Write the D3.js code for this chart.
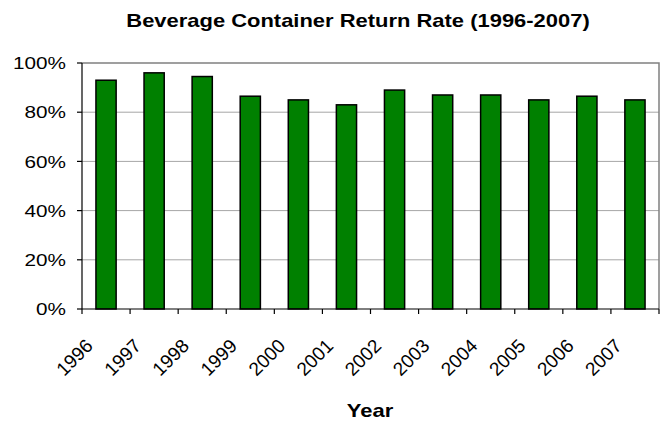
<!DOCTYPE html>
<html>
<head>
<meta charset="utf-8">
<script src="https://cdn.jsdelivr.net/npm/d3@7/dist/d3.min.js"></script>
<style>
  body { margin: 0; background: #fff; }
  text { font-family: "Liberation Sans", Arial, sans-serif; fill: #000; }
</style>
</head>
<body>
<div id="chart"></div>
<script>
const years = ["1996", "1997", "1998", "1999", "2000", "2001", "2002", "2003", "2004", "2005", "2006", "2007"];
const returnRates = [93, 96, 94.5, 86.5, 85, 83, 89, 87, 87, 85, 86.5, 85];
const yTicks = [0, 20, 40, 60, 80, 100];

const WIDTH = 665, HEIGHT = 421;
const PLOT_LEFT = 82, PLOT_RIGHT = 659, PLOT_TOP = 63, PLOT_BOTTOM = 309;
const STRETCH = 1.22; // text in the picture is a bit wide

const svg = d3.select("#chart").append("svg")
  .attr("width", WIDTH)
  .attr("height", HEIGHT);

const x = d3.scaleBand()
  .domain(years)
  .range([PLOT_LEFT, PLOT_RIGHT])
  .paddingInner(0.58)
  .paddingOuter(0.29);

const y = d3.scaleLinear()
  .domain([0, 100])
  .range([PLOT_BOTTOM, PLOT_TOP]);

// gridlines
svg.append("g").selectAll("line")
  .data(yTicks.filter(d => d > 0 && d < 100))
  .join("line")
  .attr("x1", PLOT_LEFT).attr("x2", PLOT_RIGHT)
  .attr("y1", d => y(d)).attr("y2", d => y(d))
  .attr("stroke", "#a6a6a6")
  .attr("stroke-width", 1);

// top and right border
svg.append("path")
  .attr("d", `M${PLOT_LEFT},${y(100)}H${PLOT_RIGHT}V${PLOT_BOTTOM}`)
  .attr("fill", "none")
  .attr("stroke", "#808080")
  .attr("stroke-width", 1.5);

// bars
svg.append("g").selectAll("rect")
  .data(years)
  .join("rect")
  .attr("x", d => x(d))
  .attr("y", (d, i) => y(returnRates[i]))
  .attr("width", x.bandwidth())
  .attr("height", (d, i) => y(0) - y(returnRates[i]))
  .attr("fill", "#008000")
  .attr("stroke", "#000")
  .attr("stroke-width", 1.5);

// y axis
const yAxis = svg.append("g");
yAxis.append("line")
  .attr("x1", PLOT_LEFT).attr("x2", PLOT_LEFT)
  .attr("y1", y(0)).attr("y2", y(100))
  .attr("stroke", "#000").attr("stroke-width", 1.2);
yAxis.selectAll(".tick")
  .data(yTicks)
  .join("line")
  .attr("x1", PLOT_LEFT - 5).attr("x2", PLOT_LEFT)
  .attr("y1", d => y(d)).attr("y2", d => y(d))
  .attr("stroke", "#000").attr("stroke-width", 1.2);
yAxis.selectAll("text")
  .data(yTicks)
  .join("text")
  .attr("transform", d => `translate(${PLOT_LEFT - 16},${y(d)}) scale(${STRETCH},1)`)
  .attr("text-anchor", "end")
  .attr("dy", "0.36em")
  .attr("font-size", "17px")
  .text(d => d + "%");

// x axis
const xAxis = svg.append("g");
xAxis.append("line")
  .attr("x1", PLOT_LEFT).attr("x2", PLOT_RIGHT)
  .attr("y1", PLOT_BOTTOM).attr("y2", PLOT_BOTTOM)
  .attr("stroke", "#000").attr("stroke-width", 1.2);
xAxis.selectAll(".tick")
  .data(d3.range(years.length + 1))
  .join("line")
  .attr("x1", i => PLOT_LEFT + i * x.step())
  .attr("x2", i => PLOT_LEFT + i * x.step())
  .attr("y1", PLOT_BOTTOM).attr("y2", PLOT_BOTTOM + 5)
  .attr("stroke", "#000").attr("stroke-width", 1.2);
xAxis.selectAll("text")
  .data(years)
  .join("text")
  .attr("transform", d => `translate(${x(d) + x.bandwidth() / 2 - 12},${PLOT_BOTTOM + 38}) rotate(-45)`)
  .attr("text-anchor", "end")
  .attr("font-size", "19px")
  .text(d => d);

// title
svg.append("text")
  .attr("transform", `translate(358,27) scale(${STRETCH},1)`)
  .attr("text-anchor", "middle")
  .attr("font-size", "18px")
  .attr("font-weight", "bold")
  .text("Beverage Container Return Rate (1996-2007)");

// x axis title
svg.append("text")
  .attr("transform", `translate(370,417) scale(${STRETCH},1)`)
  .attr("text-anchor", "middle")
  .attr("font-size", "18px")
  .attr("font-weight", "bold")
  .text("Year");
</script>
</body>
</html>
